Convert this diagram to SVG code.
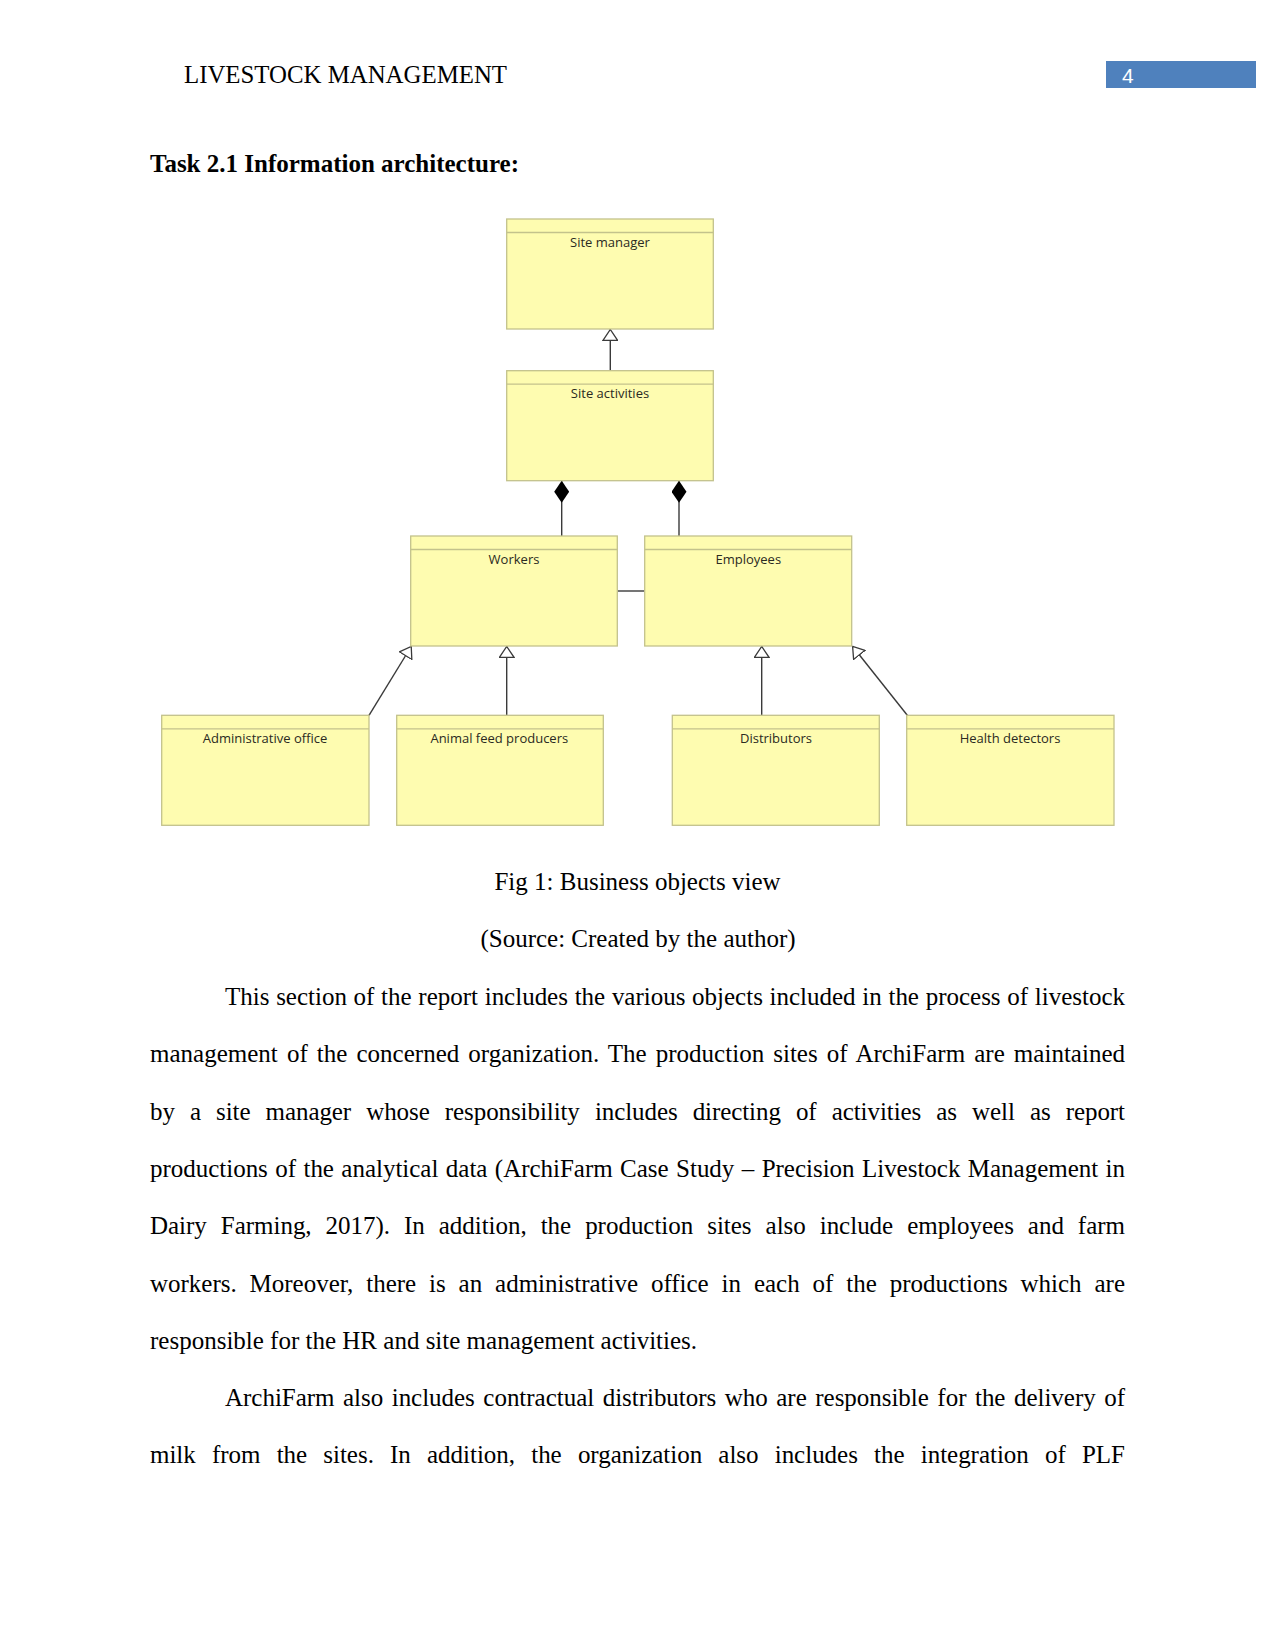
<svg xmlns="http://www.w3.org/2000/svg" width="1275" height="1650" viewBox="0 0 1275 1650">
<style>
.doc{font-family:"Liberation Serif","Times New Roman",serif;font-size:25px;fill:#000}
.box{fill:#fefcb0;stroke:#c3c28c;stroke-width:1.3}
.hdr{stroke:#c3c28c;stroke-width:1.3}
.lbl{font-family:"Open Sans","Noto Sans",sans-serif;font-size:13px;fill:#2a2a22;text-anchor:middle}
.con{stroke:#3a3a3a;stroke-width:1.4;fill:none}
</style>
<defs>
<marker id="gen" viewBox="0 0 12 16" refX="12" refY="8" markerWidth="12" markerHeight="16" markerUnits="userSpaceOnUse" orient="auto">
<path d="M0.7,0.7 L11.5,8 L0.7,15.3 Z" fill="#fff" stroke="#3a3a3a" stroke-width="1.3"/>
</marker>
<marker id="comp" viewBox="0 0 22 15" refX="22" refY="7.5" markerWidth="22" markerHeight="15" markerUnits="userSpaceOnUse" orient="auto">
<path d="M0,7.5 L11,0 L22,7.5 L11,15 Z" fill="#000"/>
</marker>
</defs>
<rect width="1275" height="1650" fill="#fff"/>

<!-- page header -->
<text class="doc" x="184" y="83" font-size="24" textLength="323" lengthAdjust="spacingAndGlyphs">LIVESTOCK MANAGEMENT</text>
<rect x="1106" y="61" width="150" height="27" fill="#4f81bd"/>
<text x="1122" y="82.5" font-family="Liberation Sans, Arial, sans-serif" font-size="21" fill="#fff">4</text>

<text class="doc" x="150" y="172" font-weight="bold">Task 2.1 Information architecture:</text>

<!-- connectors -->
<g id="connectors">
<line class="con" x1="610.3" y1="370.7" x2="610.3" y2="329" marker-end="url(#gen)"/>
<line class="con" x1="561.7" y1="536" x2="561.7" y2="480.7" marker-end="url(#comp)"/>
<line class="con" x1="679" y1="536" x2="679" y2="480.7" marker-end="url(#comp)"/>
<line class="con" x1="617.3" y1="591" x2="644.7" y2="591"/>
<line class="con" x1="369" y1="715.3" x2="411.5" y2="646" marker-end="url(#gen)"/>
<line class="con" x1="506.7" y1="715.3" x2="506.7" y2="646" marker-end="url(#gen)"/>
<line class="con" x1="761.7" y1="715.3" x2="761.7" y2="646" marker-end="url(#gen)"/>
<line class="con" x1="907.3" y1="715.3" x2="852.3" y2="646" marker-end="url(#gen)"/>
</g>

<g id="site-manager">
<rect class="box" x="506.7" y="219" width="206.6" height="110"/>
<line class="hdr" x1="506.7" y1="232.5" x2="713.3" y2="232.5"/>
<text class="lbl" x="610" y="246.5">Site manager</text>
</g>
<g id="site-activities">
<rect class="box" x="506.7" y="370.7" width="206.6" height="110"/>
<line class="hdr" x1="506.7" y1="384.2" x2="713.3" y2="384.2"/>
<text class="lbl" x="610" y="398.2">Site activities</text>
</g>
<g id="workers">
<rect class="box" x="410.7" y="536" width="206.6" height="110"/>
<line class="hdr" x1="410.7" y1="549.5" x2="617.3" y2="549.5"/>
<text class="lbl" x="514" y="563.5">Workers</text>
</g>
<g id="employees">
<rect class="box" x="644.7" y="536" width="207" height="110"/>
<line class="hdr" x1="644.7" y1="549.5" x2="851.7" y2="549.5"/>
<text class="lbl" x="748.3" y="563.5">Employees</text>
</g>
<g id="administrative-office">
<rect class="box" x="161.7" y="715.3" width="207.3" height="110"/>
<line class="hdr" x1="161.7" y1="728.8" x2="369" y2="728.8"/>
<text class="lbl" x="265" y="742.8">Administrative office</text>
</g>
<g id="animal-feed-producers">
<rect class="box" x="396.7" y="715.3" width="206.6" height="110"/>
<line class="hdr" x1="396.7" y1="728.8" x2="603.3" y2="728.8"/>
<text class="lbl" x="499.3" y="742.8">Animal feed producers</text>
</g>
<g id="distributors">
<rect class="box" x="672.3" y="715.3" width="207" height="110"/>
<line class="hdr" x1="672.3" y1="728.8" x2="879.3" y2="728.8"/>
<text class="lbl" x="776" y="742.8">Distributors</text>
</g>
<g id="health-detectors">
<rect class="box" x="906.7" y="715.3" width="207.3" height="110"/>
<line class="hdr" x1="906.7" y1="728.8" x2="1114" y2="728.8"/>
<text class="lbl" x="1010" y="742.8">Health detectors</text>
</g>

<!-- caption -->
<text class="doc" x="637.5" y="889.5" text-anchor="middle">Fig 1: Business objects view</text>
<text class="doc" x="638" y="946.5" text-anchor="middle">(Source: Created by the author)</text>

<!-- body -->
<text class="doc" x="225" y="1005" word-spacing="0.5" textLength="900" lengthAdjust="spacing">This section of the report includes the various objects included in the process of livestock</text>
<text class="doc" x="150" y="1062.3" word-spacing="2.85" textLength="975" lengthAdjust="spacing">management of the concerned organization. The production sites of ArchiFarm are maintained</text>
<text class="doc" x="150" y="1119.6" word-spacing="8.95" textLength="975" lengthAdjust="spacing">by a site manager whose responsibility includes directing of activities as well as report</text>
<text class="doc" x="150" y="1176.9" word-spacing="1.2" textLength="975" lengthAdjust="spacing">productions of the analytical data (ArchiFarm Case Study – Precision Livestock Management in</text>
<text class="doc" x="150" y="1234.2" word-spacing="7.75" textLength="975" lengthAdjust="spacing">Dairy Farming, 2017). In addition, the production sites also include employees and farm</text>
<text class="doc" x="150" y="1291.5" word-spacing="6.65" textLength="975" lengthAdjust="spacing">workers. Moreover, there is an administrative office in each of the productions which are</text>
<text class="doc" x="150" y="1348.8">responsible for the HR and site management activities.</text>
<text class="doc" x="225" y="1406.1" word-spacing="2.3" textLength="900" lengthAdjust="spacing">ArchiFarm also includes contractual distributors who are responsible for the delivery of</text>
<text class="doc" x="150" y="1463.4" word-spacing="9.95" textLength="975" lengthAdjust="spacing">milk from the sites. In addition, the organization also includes the integration of PLF</text>
</svg>
